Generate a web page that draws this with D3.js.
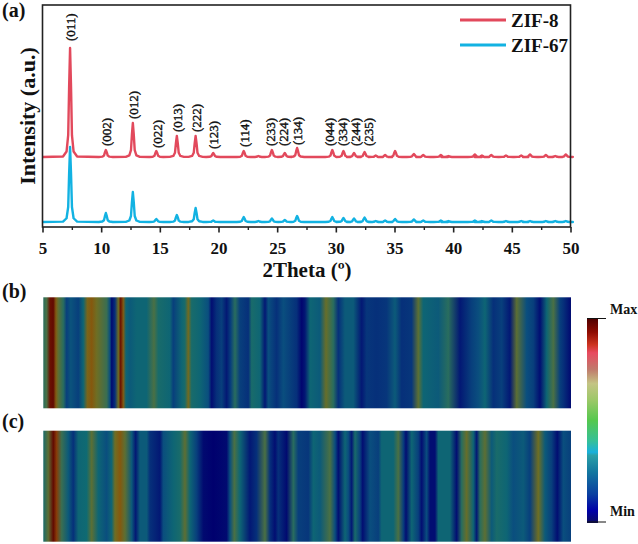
<!DOCTYPE html>
<html><head><meta charset="utf-8">
<script src="https://cdnjs.cloudflare.com/ajax/libs/d3/7.8.5/d3.min.js"></script>
<style>html,body{margin:0;background:#fff}svg{display:block}text{font-family:"Liberation Serif",serif;font-weight:bold;fill:#111}</style>
</head><body><svg id="c" width="638" height="544"></svg>
<script>
const peakTheta=[7.35,10.4,12.7,14.7,16.45,18.05,19.55,22.15,23.4,24.55,25.65,26.7,29.7,30.65,31.55,32.45,33.4,34.2,35.05,36.65,37.45,38.95,39.6,41.85,42.45,43.25,44.5,45.8,46.55,47.9,48.7,49.6];
const zif8Heights=[109,7,34,6,21,21,4,6,1,7,4,9,7,6,4,5,1.5,2,6,3,2,2,1,2.5,1.5,2,1.5,1.5,2.5,2,1,2.5];
const zif67Heights=[75,9,30,3,7,14,1.5,5,1,3.5,2,6,5,4,3.5,4.5,1,1.5,3,2.5,1.5,1.5,1,1.5,1,1.5,1,1,1,1,1,1];
const zif8Base=70, zif67Base=5;
const peakOffsets=[-0.6,-0.3,-0.16,-0.08,0,0.08,0.16,0.3,0.6];
const peakFractions=[0.005,0.05,0.2,0.65,1,0.65,0.2,0.05,0.005];
const xTicks=[5,10,15,20,25,30,35,40,45,50];
const xMinor=[7.5,12.5,17.5,22.5,27.5,32.5,37.5,42.5,47.5];
const hklLabels=["(011)","(002)","(012)","(022)","(013)","(222)","(123)","(114)","(233)","(224)","(134)","(044)","(334)","(244)","(235)"];
const hklTheta=[7.4,10.45,12.75,14.8,16.5,18.1,19.55,22.25,24.4,25.5,26.75,29.5,30.6,31.7,32.8];
const hklLevel=[186,81,108,79,95,95,78,80,81,81,82,81,81,81,81];
const seriesNames=["ZIF-8","ZIF-67"];
const seriesColors=["#e2495c","#12b2e2"];
const bCols=[130,140,150,160,168,175,190,200,212,235,250,262,275,290,320,330,335,345,355,362,370,378,390,410,440,462,475,510,520,545,555,565,575,600,625,635,650,665,680,692,705,720,745,755,780,795,805,830,850,870,890,905,915,930,960,978,1000,1015,1035,1060,1085,1100,1130,1160,1185,1205,1235,1255,1270,1315,1345,1380,1415,1435,1455,1480,1505,1530,1550,1580,1600,1620,1640,1660,1680,1690,1710];
const bVals=[.4,.5,.95,.98,.7,.55,.4,.15,.22,.15,.3,.65,.72,.6,.45,.2,.02,.1,.6,.95,.7,.3,.25,.3,.3,.5,.35,.3,.15,.3,.35,.62,.35,.3,.2,.03,.1,.15,.05,.15,.4,.15,.1,.35,.3,.05,.2,.1,.2,.15,.1,.01,.05,.3,.25,.58,.4,.1,.25,.25,.05,.12,.1,.12,.25,.1,.12,.55,.3,.25,.4,.05,.15,.2,.3,.1,.15,.05,.55,.2,.15,.03,.3,.5,.15,.1,.03];
const cCols=[130,145,160,170,185,205,220,235,260,275,295,320,335,345,360,375,395,407,420,440,450,480,490,520,540,555,570,590,610,640,680,690,703,720,750,770,795,810,825,835,860,880,895,925,940,960,990,1005,1015,1035,1045,1055,1065,1080,1088,1110,1135,1145,1180,1195,1210,1218,1235,1255,1265,1280,1290,1305,1315,1350,1370,1385,1400,1420,1430,1440,1455,1475,1490,1520,1540,1570,1590,1615,1635,1655,1672,1690,1713];
const cVals=[.35,.55,.98,.8,.45,.25,.1,.3,.32,.55,.3,.2,.3,.6,.72,.55,.25,.05,.25,.25,.1,.05,.2,.3,.35,.55,.3,.15,.02,0,.02,.2,.5,.3,.05,.1,.5,.1,.03,.1,.02,.4,.15,.12,.3,.25,.5,.2,.03,.3,.2,.05,.35,.15,.03,.2,.15,.3,.3,.5,.15,.03,.3,.15,.03,.2,.03,.03,.3,.3,.03,.4,.58,.3,.05,.4,.55,.25,.35,.3,.2,.25,.15,.6,.25,.15,.03,.2,.15];
const heatLevels=[0,.1,.2,.32,.5,.6,.72,.85,1];
const heatColors=["#00006e","#06307a","#0a4e7e","#0f6a72","#4a7044","#6e6e24","#85580e","#882a06","#5c0500"];
const barLevels=[0,.06,.14,.25,.33,.345,.4,.5,.6,.68,.75,.83,.87,.93,1];
const barColors=["#0c0c62","#0000a8","#0a3fa0","#1378a0","#2aa0a8","#18b0dc","#35c098","#55c84e","#9cc868","#c4c484","#c07a6c","#e84a60","#cc3420","#8f0c02","#4c0000"];
const barLabels=["Min","Max"];

const svg=d3.select("#c"), defs=svg.append("defs");
const x=d3.scaleLinear().domain([5,50]).range([42.5,570.5]);
const y=d3.scaleLinear().domain([0,222]).range([227,5]);

function profile(heights,base){
  const pts=[[5,base]];
  peakTheta.forEach((t,i)=>peakOffsets.forEach((o,k)=>pts.push([t+o,base+heights[i]*peakFractions[k]])));
  pts.push([50,base]);
  return pts;
}
const line=d3.line().x(d=>x(d[0])).y(d=>y(d[1]));
[[zif8Heights,zif8Base],[zif67Heights,zif67Base]].forEach((s,i)=>{
  svg.append("path").attr("d",line(profile(s[0],s[1]))).attr("fill","none")
    .attr("stroke",seriesColors[i]).attr("stroke-width",2.4).attr("stroke-linejoin","round");
});

// frame and axes
svg.append("rect").attr("x",42.5).attr("y",5).attr("width",528).attr("height",222)
  .attr("fill","none").attr("stroke","#222").attr("stroke-width",1.6);
const ax=svg.append("g").attr("transform","translate(0,227)")
  .call(d3.axisBottom(x).tickValues(xTicks).tickSize(5.5).tickPadding(9).tickFormat(d3.format("d")));
ax.select(".domain").remove();
ax.selectAll("line").attr("stroke","#222").attr("stroke-width",1.6);
ax.selectAll("text").style("font-size","17px").style("font-family","Liberation Serif");
const am=svg.append("g").attr("transform","translate(0,227)")
  .call(d3.axisBottom(x).tickValues(xMinor).tickSize(3).tickFormat(""));
am.select(".domain").remove();
am.selectAll("line").attr("stroke","#222").attr("stroke-width",1.4);

svg.append("text").attr("x",307).attr("y",277).attr("text-anchor","middle").style("font-size","21px").text("2Theta (º)");
svg.append("text").attr("transform","translate(35,116) rotate(-90)").attr("text-anchor","middle").style("font-size","22px").text("Intensity (a.u.)");

// hkl labels
hklLabels.forEach((l,i)=>{
  svg.append("text").attr("transform",`translate(${x(hklTheta[i])+4.5},${y(hklLevel[i])}) rotate(-90)`)
    .style("font-size","13px").style("font-weight","normal").style("stroke","#111").style("stroke-width",0.4).text(l);
});

// legend
seriesNames.forEach((n,i)=>{
  const ly=20+i*25;
  svg.append("line").attr("x1",460).attr("x2",506).attr("y1",ly).attr("y2",ly)
    .attr("stroke",seriesColors[i]).attr("stroke-width",3);
  svg.append("text").attr("x",511).attr("y",ly+7).style("font-size","19px").text(n);
});

// panel labels
[["(a)",2,17],["(b)",2,298],["(c)",2,428]].forEach(p=>{
  svg.append("text").attr("x",p[1]).attr("y",p[2]).style("font-size","20px").text(p[0]);
});

// heat strips
const col=d3.scaleLinear().domain([130,1713]).range([0,100]);
const heat=d3.scaleLinear().domain(heatLevels).range(heatColors);
function strip(id,cols,vals,top){
  const g=defs.append("linearGradient").attr("id",id);
  cols.forEach((c,i)=>g.append("stop").attr("offset",col(c)+"%").attr("stop-color",heat(vals[i])));
  svg.append("rect").attr("x",43.3).attr("y",top).attr("width",527.7).attr("height",111).attr("fill",`url(#${id})`);
}
strip("hb",bCols,bVals,297.3);
strip("hc",cCols,cVals,430.7);

// colour bar
const barScale=d3.scaleLinear().domain([0,1]).range([523,318]);
const barC=d3.scaleLinear().domain(barLevels).range(barColors);
const g=defs.append("linearGradient").attr("id","bar").attr("x1",0).attr("x2",0).attr("y1",1).attr("y2",0);
barLevels.forEach(v=>g.append("stop").attr("offset",v*100+"%").attr("stop-color",barC(v)));
svg.append("rect").attr("x",587).attr("y",barScale(1)).attr("width",11).attr("height",barScale(0)-barScale(1)).attr("fill","url(#bar)");
[0,1].forEach(v=>{
  const ty=v?barScale(1)+.5:barScale(0)-1;
  svg.append("line").attr("x1",587).attr("x2",606).attr("y1",ty).attr("y2",ty).attr("stroke","#111").attr("stroke-width",1);
  svg.append("text").attr("x",610).attr("y",v?314:516).style("font-size","14px").text(barLabels[v]);
});
</script></body></html>
